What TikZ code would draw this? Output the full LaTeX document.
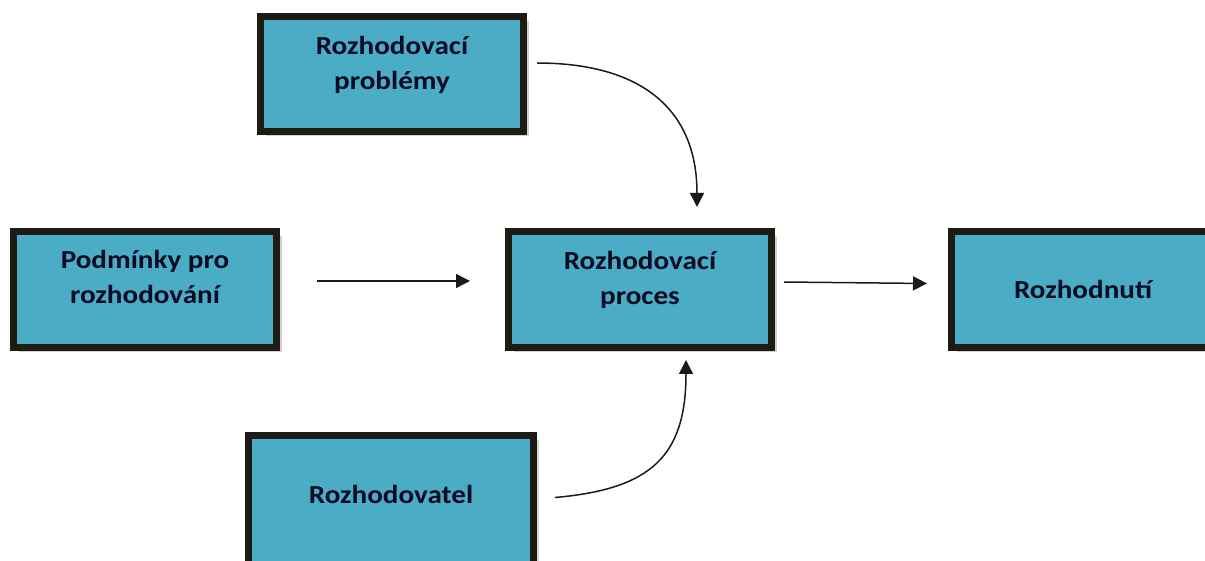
\documentclass[tikz,border=0pt]{standalone}
\usepackage{fontspec}
\setmainfont{Carlito}
\newfontfamily\boxfont[FakeStretch=1.12]{Carlito Bold}
\usetikzlibrary{arrows.meta,shadows}
\definecolor{boxfill}{HTML}{4BACC6}
\definecolor{boxline}{HTML}{1E1B14}
\definecolor{boxtext}{HTML}{0B0B24}
\definecolor{arrowcol}{HTML}{1A1A1A}
\tikzset{
  box/.style={draw=boxline, fill=boxfill, line width=7pt, inner sep=0pt,
    minimum height=116pt,
    drop shadow={shadow xshift=5pt, shadow yshift=-5pt, fill=black!40, opacity=0.45}},
  boxlabel/.style={text=boxtext, font=\boxfont\fontsize{26}{35}\selectfont,
    align=center, inner sep=0pt, anchor=base},
  flow/.style={draw=arrowcol, line width=1.5pt,
    -{Triangle[length=14pt,width=14pt]}},
}
\begin{document}
\begin{tikzpicture}[x=1pt,y=1pt]
  \useasboundingbox (0,0) rectangle (1205,560);
  \clip (0,0) rectangle (1205,560);

  % boxes
  \node[box, minimum width=263pt, minimum height=115pt] (prob) at (392,486) {};
  \node[box, minimum width=263pt] (podm) at (145,270.5) {};
  \node[box, minimum width=263pt] (proc) at (640,270.5) {};
  \node[box, minimum width=263pt] (rozh) at (1083,270.5) {};
  \node[box, minimum width=285pt, minimum height=131pt] (rozv) at (391,59) {};

  % box captions (anchored on the baseline of the last line)
  \node[boxlabel] (probt) at ([yshift=-16pt]prob.center) {Rozhodovací\\problémy};
  \node[boxlabel] (podmt) at ([yshift=-14pt]podm.center) {Podmínky pro\\rozhodování};
  \node[boxlabel] (proct) at ([yshift=-15.5pt]proc.center) {Rozhodovací\\proces};
  \node[boxlabel] (rozht) at ([yshift=-9.5pt]rozh.center) {Rozhodnutí};
  \node[boxlabel] (rozvt) at ([yshift=-2pt]rozv.center) {Rozhodovatel};

  % connectors
  \draw[flow] ([xshift=37pt,yshift=8.5pt]podm.east) -- ([xshift=-35pt,yshift=8.5pt]proc.west);
  \draw[flow] ([xshift=9pt,yshift=7.5pt]proc.east) -- ([xshift=-21pt,yshift=6pt]rozh.west);
  \draw[flow] ([xshift=10pt,yshift=11pt]prob.east)
    to[out=0,in=90,looseness=1.2] ([xshift=57pt,yshift=21pt]proc.north);
  \draw[flow] ([xshift=18pt,yshift=3.5pt]rozv.east)
    to[out=5,in=-90,looseness=1.3] ([xshift=46pt,yshift=-9pt]proc.south);
\end{tikzpicture}
\end{document}
